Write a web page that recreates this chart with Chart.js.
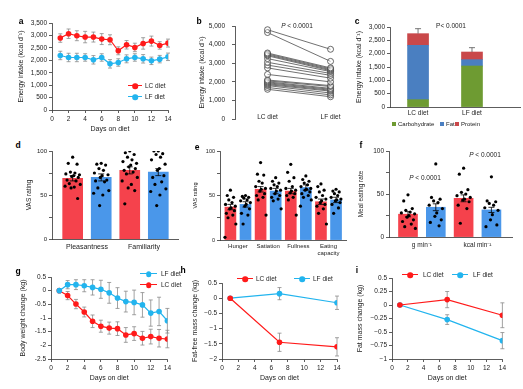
<!DOCTYPE html>
<html><head><meta charset="utf-8">
<script src="https://cdn.jsdelivr.net/npm/chart.js@4"></script>
<style>
body{margin:0;width:523px;height:389px;background:#fff;position:relative;overflow:hidden;font-family:'Liberation Sans',Arial,sans-serif;}
canvas{position:absolute;}
.t{position:absolute;white-space:nowrap;font-size:6.5px;color:#222;line-height:1;transform:translate(-50%,-50%);}
.tl{position:absolute;white-space:nowrap;font-size:6.5px;color:#222;line-height:1;transform:translate(0,-50%);}
.lt{position:absolute;font-weight:bold;font-size:8.5px;line-height:1;transform:translate(-50%,-50%);}
.ln{position:absolute;height:0;}
.dot{position:absolute;border-radius:50%;transform:translate(-50%,-50%);}
.sq{position:absolute;width:4px;height:4px;transform:translate(-50%,-50%);}
</style></head><body>
<script>
// ---------------- DATA ----------------
const days = [1,2,3,4,5,6,7,8,9,10,11,12,13,14];
const aLC = [2894,3069,2988,2934,2934,2853,2826,2382,2624,2517,2678,2772,2597,2692];
const aLCerr = [170,190,200,230,200,220,200,160,170,170,230,200,150,160];
const aLF = [2194,2113,2113,2113,2019,2113,1857,1911,2059,2113,2059,1978,2046,2140];
const aLFerr = [170,170,170,150,170,150,170,150,160,150,170,150,150,150];

const bDiets = ['LC diet','LF diet'];
const bLC = [4800,4650,3550,3500,3450,3400,3250,3050,2900,2750,2400,2100,2050,2000,1950,1900,1850,1800,1700,1600];
const bLF = [3750,3100,2750,2700,2650,2600,2550,2450,2350,2200,2000,1800,1750,1650,1600,1550,1500,1400,1300,1200];

const cDiets = ['LC diet','LF diet'];
const cCarb = [275,1537];
const cFat = [2037,238];
const cProt = [438,287];
const cErr = [187,163];

const dCats = ['Pleasantness','Familiarity'];
const dLC = [69,78];
const dLF = [70,76];
const dLCerr = [3,4];
const dLFerr = [4,4];
const dDotsLC = [
  [93,86,85,76,75,74,73,72,71,70,67,66,63,62,60,59,58,46],
  [100,98,96,93,90,88,86,84,82,80,78,76,74,70,66,62,58,55,40]];
const dDotsLF = [
  [86,85,84,80,78,75,73,72,70,67,66,65,58,55,52,50,38],
  [100,100,97,96,93,90,85,80,78,72,70,65,62,57,54,50,38]];

const eCats = ['Hunger','Satiation','Fullness','Eating capacity'];
const eLC = [37,57,55,43];
const eLF = [40,55,59,45];
const eLCerr = [3,3,3,3];
const eLFerr = [3,3,3,3];
const eDotsLC = [
  [56,50,48,45,42,40,38,36,35,33,30,28,25,18,3],
  [87,74,73,66,64,60,58,57,55,52,50,48,45,28],
  [85,76,70,66,60,58,56,55,53,52,50,48,45,28],
  [63,60,56,54,50,48,46,44,42,40,38,35,30,18]];
const eDotsLF = [
  [50,49,48,47,45,44,42,40,38,35,30,28,18],
  [70,66,64,62,60,58,56,55,52,50,48,46,44,35],
  [72,68,66,64,62,60,58,57,56,54,52,50,48,45,38],
  [57,55,54,52,50,48,46,45,44,42,40,36,30]];

const fCats = ['g min\u207B\u00B9','kcal min\u207B\u00B9'];
const fLC = [26.5,45];
const fLF = [34.6,31.5];
const fLCerr = [3,4];
const fLFerr = [4,3];
const fDotsLC = [
  [49,42,33,31,29,28,27,25,23,20,18,15,12,10],
  [80,73,55,52,50,48,46,44,43,41,37,33,16]];
const fDotsLF = [
  [85,46,44,42,40,37,33,28,24,20,17,13],
  [70,42,41,39,37,34,31,26,20,14,12]];

const gLF = [0,0.22,0.22,0.18,0.12,0.05,-0.08,-0.27,-0.40,-0.43,-0.52,-0.82,-0.76,-1.10];
const gLFerr = [0,0.15,0.18,0.22,0.28,0.33,0.38,0.38,0.38,0.45,0.45,0.48,0.52,0.45];
const gLC = [0,-0.18,-0.49,-0.78,-1.12,-1.30,-1.37,-1.39,-1.62,-1.57,-1.74,-1.68,-1.74,-1.77];
const gLCerr = [0,0.15,0.17,0.18,0.23,0.22,0.22,0.25,0.27,0.25,0.25,0.27,0.32,0.32];

const compDays = [1,7,14];
const hLC = [0,-1.45,-1.60];
const hLCerr = [0,0.30,0.30];
const hLF = [0,0.15,-0.15];
const hLFerr = [0,0.20,0.22];
const iLC = [0,0.10,-0.19];
const iLCerr = [0,0.15,0.23];
const iLF = [0,-0.27,-0.66];
const iLFerr = [0,0.09,0.15];

// ---------------- STYLE ----------------
const RED_L = '#ff1a1a', BLUE_L = '#22b4ee';
const RED_B = '#f5424c', BLUE_B = '#4a97ea';
const C_CARB = '#6e9b32', C_FAT = '#4a7fc1', C_PROT = '#c9484a';
const AX = '#333';
const JIT = [0,-0.55,0.55,-0.28,0.28,-0.85,0.85,0.12,-0.12,0.7,-0.7,0.42,-0.42,0.95,-0.95,0.2,-0.2,0.62,-0.62,0.35];

Chart.defaults.font.family = "'Liberation Sans', Arial, sans-serif";
Chart.defaults.font.size = 6.5;
Chart.defaults.color = '#222';

function drawErr(chart, behind){
  const ctx = chart.ctx;
  chart.data.datasets.forEach((ds,i)=>{
    if(!ds.errors || (!!ds.errBehind) !== behind) return;
    const meta = chart.getDatasetMeta(i);
    const ys = chart.scales[meta.yAxisID];
    ctx.save();
    ctx.strokeStyle = ds.errColor || '#000';
    ctx.lineWidth = ds.errWidth || 0.8;
    meta.data.forEach((el,j)=>{
      const e = ds.errors[j]; if(!e) return;
      const dy = Math.abs(ys.getPixelForValue(e) - ys.getPixelForValue(0));
      const x = el.x, y = el.y, cw = ds.errCap || 2;
      const top = y - dy, bot = ds.errUpOnly ? y : y + dy;
      ctx.beginPath();
      ctx.moveTo(x, top); ctx.lineTo(x, bot);
      ctx.moveTo(x-cw, top); ctx.lineTo(x+cw, top);
      if(!ds.errUpOnly){ ctx.moveTo(x-cw, bot); ctx.lineTo(x+cw, bot); }
      ctx.stroke();
    });
    ctx.restore();
  });
}
Chart.register({id:'errbars', beforeDatasetsDraw(c){drawErr(c,true);}, afterDatasetsDraw(c){drawErr(c,false);}});

function mk(box, plot, cfg, plugins){
  const cv = document.createElement('canvas');
  cv.width = box.w; cv.height = box.h;
  cv.style.left = box.x+'px'; cv.style.top = box.y+'px';
  cv.style.width = box.w+'px'; cv.style.height = box.h+'px';
  document.body.appendChild(cv);
  const o = cfg.options;
  o.responsive = false; o.animation = false; o.devicePixelRatio = 1;
  o.layout = {padding:{left:0, top: plot.t-box.y, right: box.x+box.w-plot.r, bottom:0}};
  o.plugins = {legend:{display:false}, tooltip:{enabled:false}};
  const yW = plot.l-box.x, xH = box.y+box.h-plot.b;
  o.scales.y.afterFit = s=>{ s.width = yW; };
  o.scales.x.afterFit = s=>{ s.height = xH; };
  if(plugins) cfg.plugins = plugins;
  return new Chart(cv, cfg);
}
function yAx(min,max,step,title,cb,fs,tfs,pad){
  return {type:'linear', min, max,
    ticks:{stepSize:step, padding: pad||2, callback: cb, font:{size: fs||6.5}, autoSkip:false},
    grid:{drawOnChartArea:false, tickLength:3, color:AX, lineWidth:0.8},
    border:{color:AX, width:0.8},
    title:{display:true, text:title, font:{size: tfs||7}, padding:0, color:'#222'}};
}
function xDays(){
  return {type:'linear', min:0, max:14,
    ticks:{stepSize:2, padding:2, callback:v=>String(v), font:{size:6.5}},
    grid:{drawOnChartArea:false, tickLength:3, color:AX, lineWidth:0.8},
    border:{color:AX, width:0.8},
    title:{display:true, text:'Days on diet', font:{size:7}, padding:0, color:'#222'}};
}
function xCats(min,max,pos,labels,fs,pad,split){
  return {type:'linear', min, max, offset:false,
    afterBuildTicks: s=>{ s.ticks = pos.map(v=>({value:v})); },
    ticks:{autoSkip:false, maxRotation:0, padding:pad, font:{size: fs||6.5},
      callback:(v,i)=>{ const l = labels[i]; return (split && l.indexOf(' ')>0) ? l.split(' ') : l; }},
    grid:{display:false, drawTicks:false, tickLength:0, offset:false},
    border:{color:AX, width:0.8}};
}
const fmtK = v => v.toLocaleString('en-US');
const fmtM = v => (v<0?'\u2212':'') + String(Math.abs(v));
function lineDs(xs, ys, errs, color){
  return {data: xs.map((x,i)=>({x, y: ys[i]})), borderColor: color, backgroundColor: color,
    borderWidth:1.2, pointRadius:2.8, pointBorderWidth:0, pointBackgroundColor: color,
    errors: errs, errBehind:true, errColor:'#8a8a8a', errCap:2, tension:0};
}
function dotsDs(vals, cx, spread){
  return {type:'scatter', data: vals.map((v,k)=>({x: cx + JIT[k%JIT.length]*spread, y: v})),
    pointRadius:1.6, pointBorderWidth:0, backgroundColor:'#000', pointBackgroundColor:'#000', order:0};
}
function barDs(vals, xs, errs, color, th){
  return {type:'bar', data: vals.map((v,i)=>({x: xs[i], y: v})), backgroundColor: color,
    barThickness: th, grouped:false, errors: errs, errColor:'#000', errCap:3, order:1};
}

// ---------- a ----------
mk({x:17,y:5,w:157,h:128},{l:52,t:23,r:168,b:110},{
  type:'line',
  data:{datasets:[lineDs(days,aLC,aLCerr,RED_L), lineDs(days,aLF,aLFerr,BLUE_L)]},
  options:{scales:{x:xDays(), y:yAx(0,3500,500,'Energy intake (kcal d\u207B\u00B9)',fmtK)}}
});

// ---------- b ----------
const bSets = bLC.map((v,i)=>({data:[{x:0,y:v},{x:1,y:bLF[i]}], borderColor:'#333', borderWidth:0.7,
  pointRadius:3, pointBorderWidth:0.8, pointBorderColor:'#444', pointBackgroundColor:'rgba(255,255,255,0.4)'}));
mk({x:198,y:5,w:155,h:125},{l:235,t:26,r:350,b:122},{
  type:'line',
  data:{datasets:bSets},
  options:{scales:{
    x:{type:'linear', min:-0.516, max:1.28, ticks:{display:false}, grid:{display:false}, border:{display:false}},
    y:yAx(0,5000,1000,'Energy intake (kcal d\u207B\u00B9)',fmtK,6.5,7,7)}}
},[{id:'blab', afterDraw(ch){ const ctx=ch.ctx, xs=ch.scales.x; ctx.save(); ctx.font="6.5px 'Liberation Sans', Arial";
  ctx.fillStyle='#222'; ctx.textAlign='center'; ctx.textBaseline='middle';
  bDiets.forEach((t,i)=>ctx.fillText(t, xs.getPixelForValue(i), 117-5)); ctx.restore(); }}]);

// ---------- c ----------
mk({x:355,y:5,w:168,h:116},{l:390,t:27,r:520,b:107},{
  type:'bar',
  data:{datasets:[
    {data:cCarb.map((v,i)=>({x:i,y:v})), backgroundColor:C_CARB, barThickness:21, grouped:false},
    {data:cFat.map((v,i)=>({x:i,y:v})), backgroundColor:C_FAT, barThickness:21, grouped:false},
    {data:cProt.map((v,i)=>({x:i,y:v})), backgroundColor:C_PROT, barThickness:21, grouped:false,
      errors:cErr, errUpOnly:true, errColor:'#555', errCap:3}
  ]},
  options:{scales:{
    x:xCats(-0.52,1.89,[0,1],cDiets,6.5,2.5,false),
    y:Object.assign(yAx(0,3000,500,'Energy intake (kcal d\u207B\u00B9)',fmtK),{stacked:true})}}
});

// ---------- d ----------
mk({x:25,y:140,w:157,h:120},{l:52,t:151,r:180,b:239},{
  type:'bar',
  data:{datasets:[
    dotsDs(dDotsLC[0],1,0.28), dotsDs(dDotsLF[0],2,0.28), dotsDs(dDotsLC[1],3,0.28), dotsDs(dDotsLF[1],4,0.28),
    barDs(dLC,[1,3],dLCerr,RED_B,20), barDs(dLF,[2,4],dLFerr,BLUE_B,20)]},
  options:{scales:{
    x:xCats(0.276,4.69,[1.5,3.5],dCats,7,3.5,false),
    y:yAx(0,100,25,'VAS rating',v=>(v%50===0?String(v):''),6,6.5)}}
});

// ---------- e ----------
const eSets = [];
eCats.forEach((c,i)=>{ eSets.push(dotsDs(eDotsLC[i],1+2*i,0.38)); eSets.push(dotsDs(eDotsLF[i],2+2*i,0.38)); });
eSets.push(barDs(eLC,[1,3,5,7],eLCerr,RED_B,11));
eSets.push(barDs(eLF,[2,4,6,8],eLFerr,BLUE_B,11));
mk({x:192,y:140,w:158,h:120},{l:220,t:151,r:347,b:240},{
  type:'bar',
  data:{datasets:eSets},
  options:{scales:{
    x:xCats(0.31,8.66,[1.5,3.5,5.5,7.5],eCats,6,3,true),
    y:yAx(0,100,25,'VAS rating',v=>(v%50===0?String(v):''),5.5,5.5)}}
});

// ---------- f ----------
mk({x:357,y:140,w:160,h:120},{l:389,t:151,r:512,b:237},{
  type:'bar',
  data:{datasets:[
    dotsDs(fDotsLC[0],1,0.28), dotsDs(fDotsLF[0],2,0.28), dotsDs(fDotsLC[1],3,0.28), dotsDs(fDotsLF[1],4,0.28),
    barDs(fLC,[1,3],fLCerr,RED_B,19), barDs(fLF,[2,4],fLFerr,BLUE_B,19)]},
  options:{scales:{
    x:xCats(0.317,4.74,[1.5,3.5],fCats,6.5,4.5,false),
    y:yAx(0,100,25,'Meal eating rate',v=>(v%50===0?String(v):''),6.5,6.5)}}
});

// ---------- g ----------
mk({x:19,y:265,w:154,h:117},{l:51,t:277,r:168,b:359},{
  type:'line',
  data:{datasets:[lineDs(days,gLF,gLFerr,BLUE_L), lineDs(days,gLC,gLCerr,RED_L)]},
  options:{scales:{x:xDays(), y:yAx(-2.5,0.5,0.5,'Body weight change (kg)',v=>String(v))}}
});

// ---------- h ----------
mk({x:191,y:265,w:152,h:117},{l:222,t:283,r:337,b:359},{
  type:'line',
  data:{datasets:[lineDs(compDays,hLC,hLCerr,RED_L), lineDs(compDays,hLF,hLFerr,BLUE_L)]},
  options:{scales:{x:xDays(), y:yAx(-2,0.5,0.5,'Fat-free mass change (kg)',fmtM)}}
});

// ---------- i ----------
mk({x:356,y:265,w:152,h:117},{l:392,t:278,r:503,b:359},{
  type:'line',
  data:{datasets:[lineDs(compDays,iLC,iLCerr,RED_L), lineDs(compDays,iLF,iLFerr,BLUE_L)]},
  options:{scales:{x:xDays(), y:yAx(-1,0.5,0.25,'Fat mass change (kg)',fmtM)}}
});

// ---------- HTML text: letters, legends, annotations ----------
function el(cls, x, y, html, extra){
  const d = document.createElement('div'); d.className = cls;
  d.style.left = x+'px'; d.style.top = y+'px'; if(html!==undefined) d.innerHTML = html;
  if(extra) Object.assign(d.style, extra);
  document.body.appendChild(d); return d;
}
[['a',21,21],['b',199,21],['c',357,21],['d',18,145],['e',197,147],['f',361,145],['g',18,271],['h',183,270],['i',357,270]]
  .forEach(([t,x,y])=>el('lt',x,y,t));

function legLine(x1,x2,y,color,tx,text){
  el('ln',x1,y-0.6,undefined,{width:(x2-x1)+'px',borderTop:'1.2px solid '+color});
  el('dot',(x1+x2)/2,y,undefined,{width:'5.6px',height:'5.6px',background:color});
  el('tl',tx,y,text);
}
legLine(128,142,86,RED_L,145,'LC diet');
legLine(128,142,97,BLUE_L,145,'LF diet');
legLine(140,157,274,BLUE_L,161,'LF diet');
legLine(140,157,285,RED_L,161,'LC diet');
legLine(237,253,279,RED_L,256,'LC diet');
legLine(294,310,279,BLUE_L,313,'LF diet');
legLine(402,418,275,RED_L,423,'LC diet');
legLine(452,468,275,BLUE_L,473,'LF diet');

el('sq',394,124,undefined,{background:C_CARB}); el('tl',398,124,'Carbohydrate',{fontSize:'6px'});
el('sq',442,124,undefined,{background:C_FAT}); el('tl',446,124,'Fat',{fontSize:'6px'});
el('sq',457,124,undefined,{background:C_PROT}); el('tl',461,124,'Protein',{fontSize:'6px'});

el('t',297,26,'<i>P</i> &lt; 0.0001');
el('t',451,26,'P&lt; 0.0001');
el('t',425,178,'<i>P</i> &lt; 0.0001');
el('t',485,155,'<i>P</i> &lt; 0.0001');
</script></body></html>
